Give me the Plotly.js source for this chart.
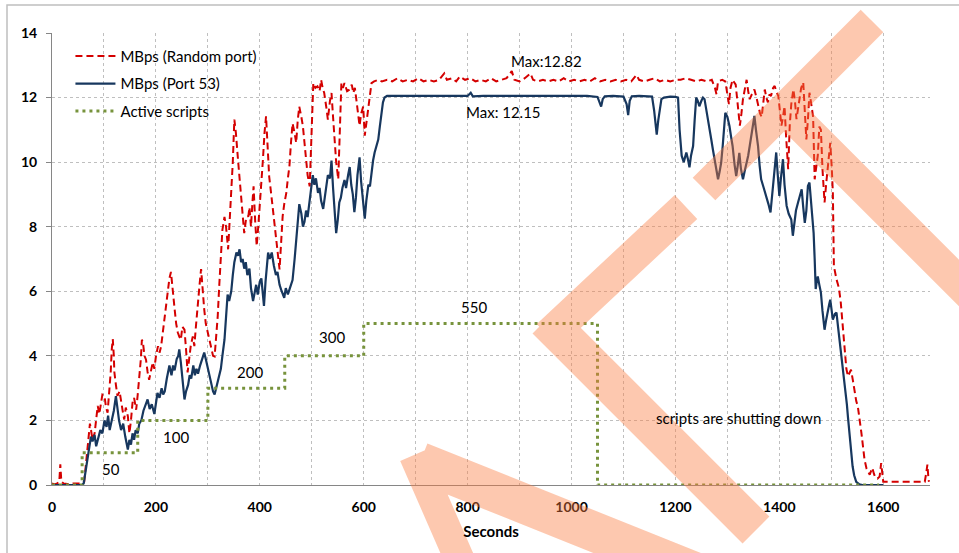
<!DOCTYPE html>
<html>
<head>
<meta charset="utf-8">
<script src="https://cdn.plot.ly/plotly-3.0.1.min.js"></script>
<style>
  html, body { margin: 0; padding: 0; background: #ffffff; }
  #chart { width: 959px; height: 553px; }
</style>
</head>
<body>
<div id="chart"></div>
<script>
// ---- Data ----
// [seconds, MBps] pairs, Random port
const randomPortSeries = [
  [0,0.05],[5,0.02],[10,0.05],[14,0.1],[16,0.64],[18,0.1],[22,0.05],[30,0.03],[40,0.05],[50,0.05],[58,0.05],
  [62,0.1],[66,0.68],[70,1.3],[73,1.9],[75,1.71],[78,1.4],[82,1.6],[85,2.1],[88,2.45],[91,2.2],[94,2.5],[97,2.8],
  [101,2.76],[104,2.4],[107,2.24],[110,2.8],[113,3.5],[115,4.2],[117,4.52],[119,4.0],[120,3.5],[123,3.1],[126,2.76],
  [130,2.9],[133,2.55],[136,2.3],[139,2.03],[142,2.4],[146,2.13],[149,1.6],[152,2.0],[155,2.55],[158,2.7],[162,2.33],
  [165,2.8],[168,3.27],[171,3.9],[173,4.5],[175,4.42],[178,4.0],[181,3.88],[184,3.5],[187,3.26],[190,3.5],[194,3.8],
  [197,3.6],[200,3.98],[204,4.3],[207,4.1],[210,4.29],[213,4.7],[216,5.2],[220,5.76],[223,6.0],[226,6.4],[229,6.6],
  [231,6.2],[233,5.8],[236,5.45],[239,5.0],[242,4.73],[245,4.6],[248,4.5],[251,4.9],[255,4.81],[258,4.2],[261,3.49],
  [264,3.9],[267,4.3],[271,4.6],[274,4.3],[277,4.91],[280,5.6],[284,6.2],[287,6.69],[290,6.0],[293,5.44],[296,5.0],
  [300,4.7],[303,4.5],[306,4.2],[310,4.0],[313,3.98],[316,4.6],[319,5.23],[322,6.2],[325,7.29],[328,7.9],[332,8.3],
  [335,8.0],[339,7.3],[342,8.1],[345,8.85],[348,10.0],[351,11.32],[354,10.9],[358,10.08],[361,9.5],[364,9.06],
  [367,8.4],[370,7.8],[374,8.3],[378,8.33],[380,8.6],[383,8.0],[386,8.8],[388,9.25],[391,8.2],[394,7.4],[397,8.0],
  [400,8.64],[403,9.4],[406,10.08],[409,10.9],[412,11.42],[415,10.5],[418,9.56],[422,9.0],[425,8.54],[428,8.1],
  [431,7.71],[434,7.2],[438,6.68],[441,7.5],[444,8.33],[447,8.7],[451,9.05],[454,9.5],[457,9.87],[460,10.6],
  [463,11.2],[467,10.9],[470,10.6],[473,11.3],[476,11.72],[480,11.4],[483,11.1],[486,10.6],[489,10.08],[492,9.6],
  [496,9.25],[499,10.8],[503,12.45],[507,12.3],[511,12.35],[515,12.2],[518,12.55],[521,12.3],[524,12.14],[528,11.7],
  [531,11.32],[535,11.9],[538,12.14],[541,11.4],[544,10.6],[547,10.0],[551,9.47],[554,11.0],[557,12.45],[560,12.3],
  [563,12.45],[568,12.2],[573,12.25],[577,12.4],[580,12.14],[583,12.3],[586,11.85],[589,11.5],[592,11.13],[595,11.5],
  [599,11.72],[602,10.82],[605,11.2],[609,11.64],[612,12.0],[615,12.45],[620,12.5],[628,12.55],[635,12.5],[645,12.55],
  [655,12.5],[665,12.6],[675,12.5],[685,12.55],[695,12.5],[705,12.6],[715,12.5],[725,12.55],[735,12.5],[745,12.55],
  [755,12.75],[760,12.55],[770,12.6],[778,12.5],[785,12.65],[795,12.55],[805,12.6],[815,12.5],[825,12.55],[835,12.5],
  [845,12.6],[855,12.5],[865,12.55],[875,12.6],[885,12.82],[890,12.55],[900,12.5],[910,12.6],[921,12.75],[926,12.55],
  [935,12.5],[945,12.55],[955,12.5],[965,12.55],[975,12.5],[985,12.6],[995,12.5],[1005,12.55],[1015,12.5],[1025,12.55],
  [1035,12.5],[1045,12.6],[1055,12.5],[1065,12.55],[1075,12.5],[1085,12.55],[1095,12.5],[1105,12.55],[1115,12.5],
  [1125,12.7],[1130,12.55],[1140,12.5],[1150,12.55],[1160,12.6],[1170,12.5],[1180,12.55],[1190,12.5],[1200,12.55],
  [1210,12.55],[1220,12.6],[1230,12.55],[1240,12.5],[1250,12.55],[1260,12.5],[1270,12.55],[1276,12.3],[1279,12.1],
  [1282,12.5],[1290,12.55],[1296,12.5],[1300,12.1],[1303,11.8],[1306,12.3],[1310,12.55],[1316,12.4],[1320,11.8],
  [1324,11.13],[1327,11.5],[1330,11.95],[1334,12.3],[1337,12.55],[1340,12.2],[1343,11.95],[1347,12.1],[1352,12.25],
  [1356,12.0],[1360,11.73],[1363,11.5],[1366,11.4],[1369,11.8],[1372,12.25],[1375,12.0],[1378,11.85],[1381,12.1],
  [1384,12.05],[1388,12.3],[1391,12.36],[1394,12.2],[1398,12.05],[1401,11.6],[1404,11.13],[1407,11.4],[1410,11.73],
  [1413,10.8],[1417,9.78],[1420,11.13],[1423,11.8],[1427,12.25],[1430,11.9],[1433,11.33],[1436,11.7],[1439,12.05],
  [1442,12.3],[1446,12.47],[1449,11.6],[1452,10.7],[1455,11.3],[1458,12.15],[1461,11.85],[1465,11.4],[1468,9.47],
  [1471,9.9],[1474,10.2],[1477,11.1],[1480,11.0],[1483,9.8],[1487,8.75],[1490,9.3],[1493,9.88],[1496,10.4],[1498,10.6],
  [1501,9.8],[1503,9.06],[1505,6.78],[1508,6.5],[1510,6.37],[1513,6.2],[1515,6.06],[1518,5.7],[1520,5.34],[1523,4.7],
  [1526,4.0],[1529,3.6],[1532,3.37],[1535,3.5],[1538,3.57],[1542,3.2],[1545,2.86],[1548,2.6],[1551,2.44],[1554,2.0],
  [1558,1.61],[1561,1.2],[1564,0.78],[1568,0.5],[1571,0.4],[1574,0.32],[1577,0.45],[1579,0.53],[1582,0.35],[1585,0.22],
  [1589,0.2],[1593,0.26],[1596,0.68],[1598,0.3],[1600,0.1],[1620,0.1],[1640,0.1],[1660,0.1],[1680,0.1],[1683,0.4],
  [1685,0.63],[1687,0.2],[1688,0.1]
];

// [seconds, MBps] pairs, Port 53
const port53Series = [
  [0,0],[10,0],[20,0],[30,0],[40,0],[50,0],[58,0],[61,0.05],[65,0.5],[69,0.8],[72,1.3],[75,1.5],[78,1.35],[82,1.55],
  [85,1.2],[89,1.5],[93,1.7],[97,1.6],[101,2.0],[105,1.8],[108,2.15],[111,1.7],[115,2.0],[119,2.3],[123,2.75],[126,2.3],
  [129,2.0],[133,1.7],[137,1.9],[141,1.5],[144,1.3],[146,1.1],[149,1.4],[152,1.25],[155,1.6],[158,1.4],[161,1.7],
  [165,1.6],[168,1.9],[172,2.0],[176,2.3],[180,2.5],[184,2.65],[188,2.35],[192,2.5],[197,2.2],[200,2.5],[203,2.85],
  [207,2.7],[211,3.0],[214,2.8],[217,2.9],[221,3.3],[224,3.5],[226,3.7],[230,3.4],[233,3.7],[236,3.55],[240,3.9],
  [243,4.0],[245,4.2],[248,3.8],[251,3.2],[253,2.9],[255,2.65],[258,2.9],[262,3.1],[265,3.4],[268,3.3],[272,3.7],
  [275,3.4],[278,3.6],[281,3.45],[285,3.7],[289,3.9],[293,4.1],[296,3.9],[300,3.6],[303,3.35],[306,3.1],[310,2.9],
  [313,2.8],[316,3.0],[319,3.2],[322,3.35],[325,3.6],[328,4.0],[332,4.5],[335,5.2],[338,5.9],[341,5.7],[345,6.0],
  [348,6.5],[351,6.9],[355,7.2],[358,7.1],[361,7.3],[364,6.9],[367,7.0],[370,6.7],[373,6.9],[376,6.5],[380,6.7],
  [383,6.1],[387,5.7],[390,6.0],[393,6.2],[396,5.9],[400,6.3],[403,6.4],[406,5.8],[408,5.55],[411,6.3],[414,6.9],
  [416,7.2],[419,7.0],[423,7.2],[427,6.8],[431,6.5],[434,6.6],[438,6.2],[441,6.05],[444,5.9],[447,5.8],[450,6.1],
  [454,5.9],[457,6.05],[460,6.2],[463,6.35],[467,7.0],[470,7.6],[473,8.2],[476,8.7],[480,8.4],[483,8.0],[486,8.15],
  [489,8.5],[492,8.3],[496,8.85],[499,9.1],[502,9.6],[505,9.3],[508,9.5],[512,9.05],[515,9.2],[518,8.8],[522,8.55],
  [525,8.9],[528,9.25],[531,9.6],[535,9.5],[538,10.05],[541,9.2],[544,8.4],[547,7.8],[550,8.2],[553,8.75],[556,8.9],
  [559,9.2],[563,9.45],[566,9.2],[570,9.6],[573,9.85],[576,9.3],[579,9.0],[582,8.45],[585,8.9],[588,9.6],[592,10.15],
  [595,9.4],[598,8.9],[602,8.25],[605,8.8],[609,9.3],[612,9.25],[615,9.7],[618,10.05],[621,10.3],[625,10.5],[628,10.7],
  [631,11.1],[634,11.5],[637,11.85],[640,12.0],[645,12.05],[660,12.05],[680,12.05],[700,12.05],[720,12.04],[740,12.05],
  [760,12.04],[780,12.05],[800,12.05],[806,12.15],[810,12.04],[830,12.05],[850,12.05],[870,12.04],[890,12.05],
  [910,12.05],[930,12.04],[950,12.05],[970,12.04],[990,12.05],[1010,12.05],[1030,12.05],[1050,12.02],[1054,11.85],
  [1057,11.72],[1060,11.95],[1064,12.04],[1080,12.05],[1100,12.03],[1106,11.8],[1109,11.46],[1112,11.9],[1116,12.04],
  [1130,12.05],[1145,12.04],[1155,12.03],[1159,11.6],[1162,11.2],[1164,10.85],[1167,11.3],[1170,11.6],[1173,11.95],
  [1178,12.0],[1190,12.03],[1200,12.02],[1205,12.0],[1208,11.0],[1212,10.2],[1216,10.0],[1221,10.3],[1224,10.1],
  [1227,9.84],[1230,10.2],[1234,10.5],[1237,11.3],[1240,12.0],[1243,11.9],[1246,11.73],[1250,11.9],[1253,12.0],
  [1256,11.95],[1260,11.6],[1263,11.3],[1266,11.0],[1269,10.7],[1272,10.4],[1275,10.09],[1278,9.8],[1282,9.47],
  [1285,9.7],[1288,9.98],[1291,10.5],[1294,11.1],[1296,11.53],[1300,11.4],[1304,11.12],[1307,10.8],[1310,10.5],
  [1314,9.9],[1317,9.57],[1320,9.9],[1323,10.29],[1326,9.8],[1330,9.47],[1333,9.7],[1336,9.88],[1340,10.2],[1343,10.5],
  [1347,10.9],[1350,11.3],[1352,11.43],[1355,11.0],[1359,10.5],[1362,9.9],[1365,9.47],[1370,9.2],[1375,8.95],
  [1379,8.7],[1383,8.44],[1386,8.9],[1388,9.26],[1391,9.8],[1394,10.3],[1397,9.6],[1400,8.95],[1403,9.5],[1407,10.09],
  [1410,9.3],[1414,8.65],[1418,8.4],[1423,8.22],[1426,7.72],[1429,8.1],[1432,8.5],[1436,8.75],[1440,9.0],[1443,9.16],
  [1446,8.6],[1449,8.12],[1452,8.5],[1455,9.26],[1458,9.37],[1461,8.85],[1464,8.3],[1466,7.8],[1468,7.0],[1470,6.07],
  [1472,6.3],[1474,6.46],[1477,6.2],[1480,5.96],[1483,5.4],[1487,4.81],[1490,5.1],[1493,5.43],[1496,5.6],[1498,5.74],
  [1501,5.4],[1503,5.12],[1507,5.3],[1510,5.34],[1513,4.9],[1516,4.5],[1519,4.0],[1522,3.57],[1525,3.2],[1527,2.85],
  [1530,2.5],[1532,2.12],[1534,1.8],[1536,1.4],[1538,1.0],[1541,0.58],[1544,0.3],[1548,0.1],[1554,0.02],[1560,0],
  [1580,0],[1600,0]
];

// Active scripts (step levels on the same axis)
const scriptSeconds = [0, 58, 165, 300, 448, 600, 1050, 1592];
const scriptLevels  = [0, 1, 2, 3, 4, 5, 0, 0];

// Text labels
const seriesNames = ['MBps (Random port)', 'MBps (Port 53)', 'Active scripts'];
const stepLabels = ['50', '100', '200', '300', '550'];
const stepLabelX = [113, 238, 382, 538, 813];
const stepLabelY = [0.5, 1.49, 3.51, 4.59, 5.52];
const noteTexts = ['Max:12.82', 'Max: 12.15', 'scripts are shutting down'];
const noteX = [951, 870, 1322];
const noteY = [13.14, 11.54, 2.08];
const xTickVals = [0, 200, 400, 600, 800, 1000, 1200, 1400, 1600];
const yTickVals = [0, 2, 4, 6, 8, 10, 12, 14];

// ---- Figure ----
const FONT = 'Lato, "Open Sans", "Liberation Sans", sans-serif';

const traces = [
  {
    x: randomPortSeries.map(p => p[0]), y: randomPortSeries.map(p => p[1]),
    type: 'scatter', mode: 'lines', name: seriesNames[0], legendgroup: 'a',
    line: { color: '#D40000', width: 2, dash: '7px,4px' }
  },
  {
    x: port53Series.map(p => p[0]), y: port53Series.map(p => p[1]),
    type: 'scatter', mode: 'lines', name: seriesNames[1], legendgroup: 'b',
    line: { color: '#17375E', width: 2.2 }
  },
  {
    x: scriptSeconds, y: scriptLevels,
    type: 'scatter', mode: 'lines', name: seriesNames[2], legendgroup: 'c',
    line: { color: '#77933C', width: 3, dash: '3px,4px', shape: 'hv' }
  }
];

const annotations = [];
stepLabels.forEach((t, i) => annotations.push({
  x: stepLabelX[i], y: stepLabelY[i], xref: 'x', yref: 'y', text: t, showarrow: false,
  font: { family: FONT, size: 15, color: '#000' }
}));
noteTexts.forEach((t, i) => annotations.push({
  x: noteX[i], y: noteY[i], xref: 'x', yref: 'y', text: t, showarrow: false,
  font: { family: FONT, size: 15, color: '#000' }
}));

// Decorative watermark stripes of the source picture (pixel geometry -> paper coords)
const PL = 52, PT = 33, PW = 878, PH = 452;
const stripes = [
  [414, 455, 462, 565, 30],
  [420, 462, 712, 579, 40],
  [548, 336, 686, 207, 33],
  [546, 320, 756, 530, 38],
  [704, 189, 872, 21, 32],
  [785, 109, 985, 309, 33]
];
function toPaper(px, py) {
  return ((px - PL) / PW).toFixed(4) + ',' + ((PT + PH - py) / PH).toFixed(4);
}
let wmPath = '';
stripes.forEach(s => {
  const [x0, y0, x1, y1, w] = s;
  const L = Math.hypot(x1 - x0, y1 - y0);
  const nx = -(y1 - y0) / L * w / 2, ny = (x1 - x0) / L * w / 2;
  wmPath += 'M' + toPaper(x0 + nx, y0 + ny) + 'L' + toPaper(x1 + nx, y1 + ny) +
            'L' + toPaper(x1 - nx, y1 - ny) + 'L' + toPaper(x0 - nx, y0 - ny) + 'Z';
});

const shapes = [
  { type: 'rect', xref: 'paper', yref: 'paper', layer: 'below',
    x0: (7 - PL) / PW, x1: (990 - PL) / PW, y0: (PT + PH - 600) / PH, y1: (PT + PH - 5) / PH,
    line: { color: '#BFBFBF', width: 1.5 }, fillcolor: 'rgba(0,0,0,0)' },
  { type: 'path', xref: 'paper', yref: 'paper', layer: 'above', path: wmPath,
    fillrule: 'nonzero', fillcolor: 'rgb(250,125,65)', opacity: 0.42, line: { width: 0 } }
];

const layout = {
  width: 959, height: 553,
  margin: { l: PL, r: 959 - PL - PW, t: PT, b: 553 - PT - PH },
  paper_bgcolor: '#ffffff', plot_bgcolor: '#ffffff',
  font: { family: FONT, size: 15, color: '#000' },
  showlegend: true,
  legend: {
    x: 0.021, y: 0.985, xanchor: 'left', yanchor: 'top',
    bgcolor: 'rgba(255,255,255,0)', borderwidth: 0,
    font: { family: FONT, size: 15, color: '#000' },
    traceorder: 'grouped', tracegroupgap: 5, itemwidth: 40
  },
  xaxis: {
    range: [0, 1690], tickvals: xTickVals, ticks: '',
    showline: true, linecolor: '#868686', linewidth: 1,
    showgrid: true, gridcolor: '#BFBFBF', griddash: 'dot', gridwidth: 1,
    minor: { dtick: 100, showgrid: true, gridcolor: '#BFBFBF', griddash: 'dot', gridwidth: 1 },
    zeroline: false,
    tickfont: { family: FONT, size: 14, color: '#000', weight: 'bold' },
    ticklabelstandoff: 9,
    title: { text: 'Seconds', font: { family: FONT, size: 15, color: '#000', weight: 'bold' }, standoff: 12 }
  },
  yaxis: {
    range: [0, 14], tickvals: yTickVals, ticks: 'outside', ticklen: 5, tickcolor: '#868686',
    showline: true, linecolor: '#868686', linewidth: 1,
    showgrid: true, gridcolor: '#BFBFBF', griddash: 'dot', gridwidth: 1,
    zeroline: false,
    tickfont: { family: FONT, size: 14, color: '#000', weight: 'bold' },
    ticklabelstandoff: 6
  },
  annotations: annotations,
  shapes: shapes
};

Plotly.newPlot('chart', traces, layout, { staticPlot: true, displayModeBar: false });
</script>
</body>
</html>
